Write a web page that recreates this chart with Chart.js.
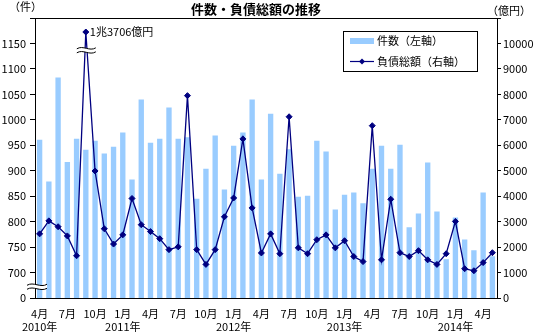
<!DOCTYPE html>
<html>
<head>
<meta charset="utf-8">
<script src="https://cdn.jsdelivr.net/npm/chart.js@4/dist/chart.umd.min.js"></script>
<style>
  html, body { margin: 0; padding: 0; background: #fff; }
  #wrap { width: 535px; height: 332px; }
</style>
</head>
<body>
<div id="wrap"><canvas id="chart"></canvas></div>
<script>
// ── DATA ──
const months = [
  '2010/4','2010/5','2010/6','2010/7','2010/8','2010/9','2010/10','2010/11','2010/12',
  '2011/1','2011/2','2011/3','2011/4','2011/5','2011/6','2011/7','2011/8','2011/9','2011/10','2011/11','2011/12',
  '2012/1','2012/2','2012/3','2012/4','2012/5','2012/6','2012/7','2012/8','2012/9','2012/10','2012/11','2012/12',
  '2013/1','2013/2','2013/3','2013/4','2013/5','2013/6','2013/7','2013/8','2013/9','2013/10','2013/11','2013/12',
  '2014/1','2014/2','2014/3','2014/4','2014/5'
];
// 件数 (left axis)
const counts = [
  961, 879, 1083, 917, 963, 941, 959, 934, 947, 975, 883, 1040, 955,
  963, 1024, 963, 966, 845, 904, 969, 863, 949, 975, 1040, 883,
  1012, 894, 942, 849, 851, 959, 938, 824, 853, 857, 836, 904, 949,
  904, 951, 789, 816, 916, 820, 726, 808, 765, 744, 857, 732
];
// 負債総額 億円 (right axis)
const debt = [
  2520, 3030, 2800, 2440, 1660, 13706, 4990, 2720, 2120, 2480, 3910, 2880, 2610,
  2330, 1900, 2010, 7950, 1900, 1320, 1900, 3190, 3930, 6250, 3540, 1770,
  2520, 1740, 7120, 1970, 1740, 2290, 2480, 1970, 2250, 1630, 1430, 6770,
  1500, 3880, 1780, 1630, 1860, 1500, 1320, 1740, 3010, 1150, 1070, 1390, 1780
];
const leftTicks = [650, 700, 750, 800, 850, 900, 950, 1000, 1050, 1100, 1150, 1200];
const DEBT_CAP = 10450;   // axis break: 1兆3706億円 drawn at the top
const debtPlot = debt.map(v => Math.min(v, DEBT_CAP));

const FONT = "'Noto Sans CJK JP', 'Noto Sans', sans-serif";
const BAR = '#99ccff';
const NAVY = '#000080';

// wavy "≈" break mark
function breakMark(c, x0, x1, y) {
  const w = x1 - x0;
  c.save();
  c.fillStyle = '#fff';
  c.beginPath();
  c.moveTo(x0, y - 1);
  c.bezierCurveTo(x0 + w / 3, y - 5, x0 + 2 * w / 3, y + 2, x1, y - 2);
  c.lineTo(x1, y + 2);
  c.bezierCurveTo(x0 + 2 * w / 3, y + 6, x0 + w / 3, y - 1, x0, y + 3);
  c.closePath();
  c.fill();
  c.strokeStyle = '#000';
  c.lineWidth = 1;
  c.beginPath();
  c.moveTo(x0, y - 1);
  c.bezierCurveTo(x0 + w / 3, y - 5, x0 + 2 * w / 3, y + 2, x1, y - 2);
  c.moveTo(x0, y + 3);
  c.bezierCurveTo(x0 + w / 3, y - 1, x0 + 2 * w / 3, y + 6, x1, y + 2);
  c.stroke();
  c.restore();
}

const decor = {
  id: 'decor',
  afterDraw(chart) {
    const c = chart.ctx, a = chart.chartArea;
    const xs = chart.scales.x, y1 = chart.scales.y1, y = chart.scales.y;
    c.save();
    // top frame line
    c.strokeStyle = '#000';
    c.lineWidth = 1;
    c.beginPath();
    c.moveTo(a.left - 1, Math.round(a.top) + 0.5);
    c.lineTo(a.right, Math.round(a.top) + 0.5);
    c.stroke();

    // title + units
    c.fillStyle = '#000';
    c.textBaseline = 'middle';
    c.font = 'bold 13px ' + FONT;
    c.textAlign = 'center';
    c.fillText('件数・負債総額の推移', 256, 9);
    c.font = '11px ' + FONT;
    c.textAlign = 'left';
    c.fillText('（件）', 9, 7);
    c.fillText('（億円）', 487, 11);

    // peak label
    const pi = debt.indexOf(Math.max(...debt));
    const px = xs.getPixelForValue(pi), py = y1.getPixelForValue(debtPlot[pi]);
    c.fillText('1兆3706億円', px + 4, py);

    // axis breaks
    const yb = (y.getPixelForValue(650) + y.getPixelForValue(700)) / 2 + 1;
    breakMark(c, 27, 47, yb);
    breakMark(c, px - 9, px + 10, y1.getPixelForValue(9750));

    // legend
    c.fillStyle = '#fff';
    c.fillRect(343.5, 31.5, 134, 40);
    c.strokeStyle = '#000';
    c.strokeRect(343.5, 31.5, 134, 40);
    c.fillStyle = BAR;
    c.fillRect(350, 38, 24, 6);
    c.strokeStyle = NAVY;
    c.lineWidth = 1.2;
    c.beginPath();
    c.moveTo(350, 61.5);
    c.lineTo(374, 61.5);
    c.stroke();
    c.fillStyle = NAVY;
    c.beginPath();
    c.moveTo(362, 58.5); c.lineTo(365, 61.5); c.lineTo(362, 64.5); c.lineTo(359, 61.5);
    c.closePath();
    c.fill();
    c.fillStyle = '#000';
    c.font = '11px ' + FONT;
    c.fillText('件数（左軸）', 377, 41);
    c.fillText('負債総額（右軸）', 377, 61.5);
    c.restore();
  }
};

new Chart(document.getElementById('chart'), {
  type: 'bar',
  data: {
    labels: months,
    datasets: [
      {
        type: 'line',
        label: '負債総額（右軸）',
        data: debtPlot,
        yAxisID: 'y1',
        order: 0,
        borderColor: NAVY,
        borderWidth: 1.3,
        pointStyle: 'rectRot',
        pointRadius: 3,
        pointBackgroundColor: NAVY,
        pointBorderColor: NAVY,
        pointBorderWidth: 1,
        tension: 0,
        fill: false
      },
      {
        label: '件数（左軸）',
        data: counts,
        yAxisID: 'y',
        order: 1,
        backgroundColor: BAR,
        borderWidth: 0,
        barPercentage: 0.58,
        categoryPercentage: 1
      }
    ]
  },
  options: {
    responsive: true,
    maintainAspectRatio: false,
    animation: false,
    layout: { padding: { top: 18, left: 0, right: 0, bottom: 0 } },
    plugins: { legend: { display: false }, tooltip: { enabled: false } },
    scales: {
      x: {
        grid: { display: false, drawTicks: false },
        border: { display: true, color: '#000' },
        afterFit: s => { s.height = 34; },
        ticks: {
          autoSkip: false,
          maxRotation: 0,
          padding: 9,
          color: '#000',
          font: { family: FONT, size: 11 },
          callback: (v, i) => {
            const [yr, m] = months[i].split('/').map(Number);
            if ((m - 1) % 3 !== 0) return '';
            if (i === 0 || m === 1) return [m + '月', yr + '年'];
            return m + '月';
          }
        }
      },
      y: {
        position: 'left',
        min: 650, max: 1200,
        afterFit: s => { s.width = 35; },
        afterBuildTicks: s => { s.ticks = leftTicks.map(v => ({ value: v })); },
        grid: { drawOnChartArea: false, drawTicks: true, tickLength: 5, color: '#000' },
        border: { display: true, color: '#000' },
        ticks: {
          padding: 4,
          color: '#000',
          font: { family: FONT, size: 11 },
          callback: v => v === 650 ? '0' : (v === 1200 ? '' : v)
        }
      },
      y1: {
        position: 'right',
        min: 0, max: 11000,
        afterFit: s => { s.width = 38; },
        grid: { drawOnChartArea: false, drawTicks: true, tickLength: 4, color: '#000' },
        border: { display: true, color: '#000' },
        ticks: {
          stepSize: 1000,
          padding: 2,
          color: '#000',
          font: { family: FONT, size: 11 },
          callback: v => v === 11000 ? '' : v
        }
      }
    }
  },
  plugins: [decor]
});
</script>
</body>
</html>
